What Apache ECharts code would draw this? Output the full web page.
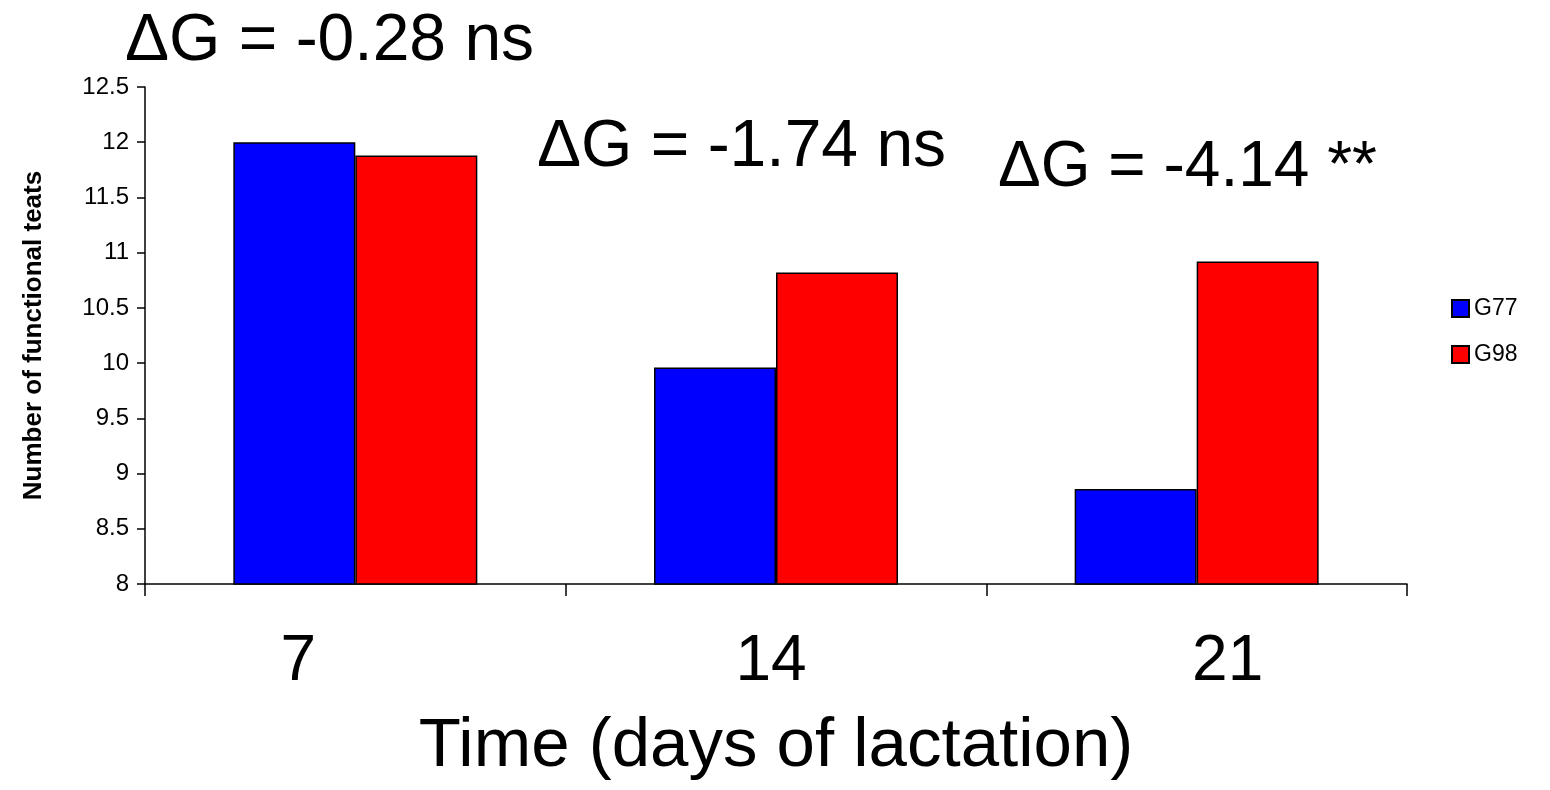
<!DOCTYPE html>
<html>
<head>
<meta charset="utf-8">
<script src="https://cdn.jsdelivr.net/npm/echarts@6/dist/echarts.min.js"></script>
<style>
  html, body { margin: 0; padding: 0; background: #fff; }
  #chart { width: 1550px; height: 790px; }
</style>
</head>
<body>
<div id="chart"></div>
<script>
// days of lactation
var categories = ['7', '14', '21'];
var g77 = [12.0, 9.96, 8.86];
var g98 = [11.88, 10.82, 10.92];
var notes = ['\u0394G = -0.28 ns', '\u0394G = -1.74 ns', '\u0394G = -4.14 **'];

var font = 'Liberation Sans, Arial, sans-serif';
var chart = echarts.init(document.getElementById('chart'));

// the day labels sit a bit off the category centres in the original
function dayLabel(v) {
  if (v === '7') return '{l|' + v + '}';
  if (v === '21') return '{r|' + v + '}';
  return '{m|' + v + '}';
}

var option = {
  backgroundColor: '#fff',
  animation: false,
  grid: { left: 145, right: 143, top: 87, bottom: 206 },
  legend: {
    orient: 'vertical',
    left: 1446,
    top: 292,
    icon: 'rect',
    itemWidth: 17,
    itemHeight: 17,
    itemGap: 23,
    textStyle: { fontFamily: font, fontSize: 23, color: '#000' },
    data: ['G77', 'G98']
  },
  xAxis: {
    type: 'category',
    data: categories,
    axisLine: { lineStyle: { color: '#000', width: 1.5 } },
    axisTick: { show: true, length: 12, lineStyle: { color: '#000', width: 1.5 } },
    axisLabel: {
      fontFamily: font,
      fontSize: 64,
      color: '#000',
      margin: 46,
      formatter: dayLabel,
      rich: {
        l: { fontFamily: font, fontSize: 64, color: '#000', padding: [0, 114, 0, 0] },
        m: { fontFamily: font, fontSize: 64, color: '#000', padding: [0, 10, 0, 0] },
        r: { fontFamily: font, fontSize: 64, color: '#000', padding: [0, 0, 0, 62] }
      }
    },
    name: 'Time (days of lactation)',
    nameLocation: 'middle',
    nameGap: 128,
    nameTextStyle: { fontFamily: font, fontSize: 69, color: '#000' }
  },
  yAxis: {
    type: 'value',
    min: 8,
    max: 12.5,
    interval: 0.5,
    splitLine: { show: false },
    axisLine: { show: true, lineStyle: { color: '#000', width: 1.5 } },
    axisTick: { show: true, length: 8, lineStyle: { color: '#000', width: 1.5 } },
    axisLabel: { fontFamily: font, fontSize: 24, color: '#000', margin: 16 },
    name: 'Number of functional teats',
    nameLocation: 'middle',
    nameGap: 98,
    nameTextStyle: { fontFamily: font, fontSize: 26, fontWeight: 'bold', color: '#000' }
  },
  series: [
    {
      name: 'G77',
      type: 'bar',
      data: g77,
      barWidth: '29%',
      barGap: '0%',
      itemStyle: { color: '#0000ff', borderColor: '#000', borderWidth: 1.5 }
    },
    {
      name: 'G98',
      type: 'bar',
      data: g98,
      barWidth: '29%',
      barGap: '0%',
      itemStyle: { color: '#ff0000', borderColor: '#000', borderWidth: 1.5 }
    }
  ],
  graphic: [
    { type: 'text', x: 125, y: 42, style: { text: notes[0], font: '66px ' + font, fill: '#000', verticalAlign: 'middle' } },
    { type: 'text', x: 537, y: 148, style: { text: notes[1], font: '66px ' + font, fill: '#000', verticalAlign: 'middle' } },
    { type: 'text', x: 998, y: 168, style: { text: notes[2], font: '64px ' + font, fill: '#000', verticalAlign: 'middle' } }
  ]
};

chart.setOption(option);
</script>
</body>
</html>
